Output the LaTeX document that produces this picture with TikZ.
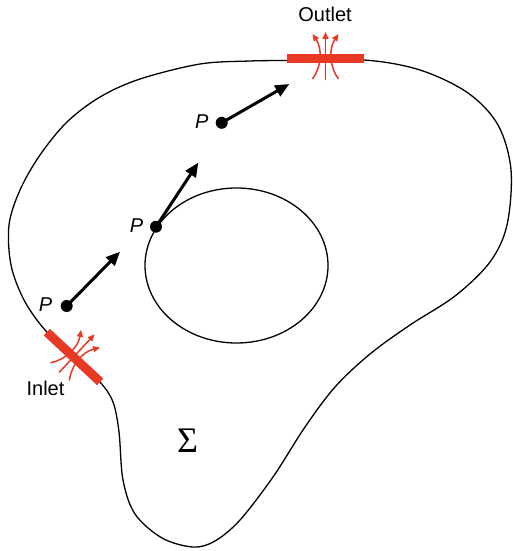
\documentclass[tikz,border=0pt]{standalone}
\usepackage{fontspec}
\setmainfont{Liberation Sans}
\newfontfamily\sigmafont{Liberation Serif}
\usetikzlibrary{arrows.meta}
\definecolor{flowred}{RGB}{232,57,36}
\newcommand{\portglyph}[2]{%
  \draw[portbar] (-#1,0) -- (#1,0);
  \draw[flow] (0,21) -- (0,-#2);
  \draw[flow] (-13,20) .. controls (-4,8) and (-3,-10) .. (-13,-25);
  \draw[flow] (13,20) .. controls (4,8) and (3,-10) .. (13,-25);
}
\begin{document}
\begin{tikzpicture}[x=1pt,y=-1pt,
  boundary/.style={line width=1.3pt},
  pdot/.style={circle,fill=black,minimum size=12pt,inner sep=0pt},
  vec/.style={line width=3pt,-{Triangle[length=14pt,width=12pt]}},
  plabel/.style={font=\fontsize{20}{20}\selectfont\itshape,inner sep=0pt},
  lbl/.style={font=\fontsize{20}{20}\selectfont,inner sep=0pt},
  portbar/.style={flowred,line width=9pt},
  flow/.style={flowred,line width=1.5pt,-{Triangle[length=7pt,width=6pt]}}
]
\useasboundingbox (0,0) rectangle (512,551);

% outer boundary
\draw[boundary] plot[smooth cycle, tension=0.55] coordinates {
  (287,60.5) (364,60) (420,70) (468,93) (498,125) (511,170)
  (507,225) (490,262) (455,296) (410,325) (370,354) (335,387)
  (305,427) (273,477) (240,520) (215,541) (193,547) (162,538)
  (135,514) (123,480) (119,432) (113,402) (100,382) (73.5,357)
  (45,330) (24,300) (11,265) (9,225) (20,190) (40,155) (67,122)
  (100,97) (140,79) (200,64) (250,61)
};

% inner hole
\draw[boundary] (236.5,265.5) ellipse [x radius=91.5pt, y radius=77.5pt];

% outlet and inlet
\begin{scope}[shift={(325.5,59)}]
  \portglyph{38.5}{27}
\end{scope}
\begin{scope}[shift={(73.5,357)}, rotate=-43]
  \portglyph{36.5}{31}
\end{scope}

\node[lbl] (outlet) at (325,14.5) {Outlet};
\node[lbl] (inlet) at (45.5,388.5) {Inlet};

% points P with velocity arrows
\node[pdot] (p1) at (66.7,306) {};
\node[pdot] (p2) at (156,226.7) {};
\node[pdot] (p3) at (221.7,122.8) {};
\coordinate (t1) at (120,251.7);
\coordinate (t2) at (198.3,162.7);
\coordinate (t3) at (289.3,84);
\draw[vec] (p1.center) -- (t1);
\draw[vec] (p2.center) -- (t2);
\draw[vec] (p3.center) -- (t3);

\node[plabel] (l1) at (45.5,305) {P};
\node[plabel] (l2) at (136.5,226) {P};
\node[plabel] (l3) at (201.7,122) {P};

\node[font=\sigmafont\fontsize{36}{36}\selectfont, inner sep=0pt] (sigma) at (187.5,441) {Σ};
\end{tikzpicture}
\end{document}
